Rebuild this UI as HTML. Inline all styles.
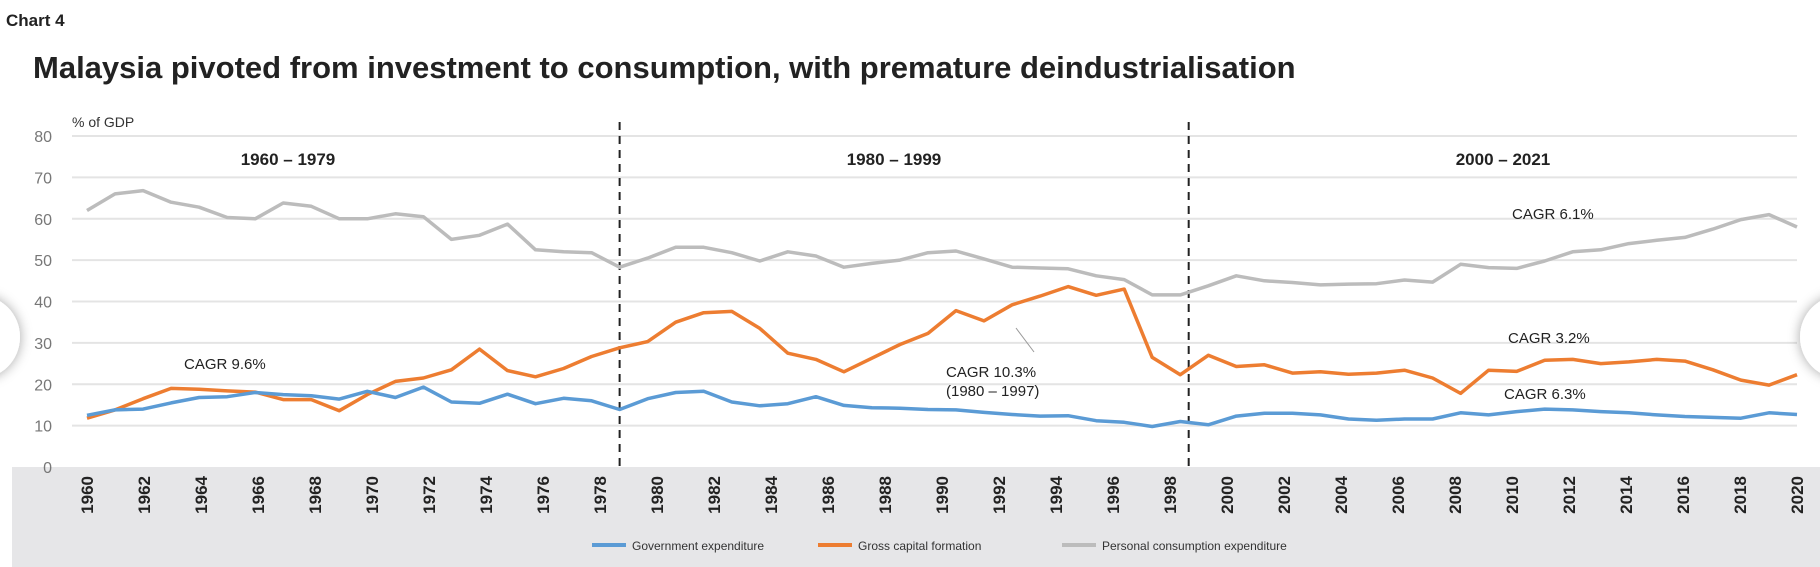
<!DOCTYPE html>
<html><head><meta charset="utf-8"><style>
html,body{margin:0;padding:0;background:#fff;}
body{width:1820px;height:567px;overflow:hidden;position:relative;font-family:"Liberation Sans",sans-serif;}
svg{position:absolute;left:0;top:0;}
</style></head><body>
<svg id="chart" width="1820" height="567" viewBox="0 0 1820 567" xmlns="http://www.w3.org/2000/svg">
  <defs><filter id="sh" x="-50%" y="-50%" width="200%" height="200%"><feDropShadow dx="0" dy="0" stdDeviation="6" flood-color="#000" flood-opacity="0.35"/></filter></defs>
  <rect x="12" y="467" width="1808" height="100" fill="#e6e6e8"/>
  <text x="6" y="26" font-size="17" font-weight="bold" fill="#222">Chart 4</text>
  <text x="33" y="78" font-size="31" font-weight="bold" fill="#222">Malaysia pivoted from investment to consumption, with premature deindustrialisation</text>
  <text x="72" y="127" font-size="14" fill="#333">% of GDP</text>
  <g id="grid"></g><g id="yticks"></g><g id="xticks"></g><g id="series"></g>
  <text x="288" y="165" font-size="17" font-weight="bold" text-anchor="middle" fill="#222">1960 – 1979</text>
  <text x="894" y="165" font-size="17" font-weight="bold" text-anchor="middle" fill="#222">1980 – 1999</text>
  <text x="1503" y="165" font-size="17" font-weight="bold" text-anchor="middle" fill="#222">2000 – 2021</text>
  <text x="184" y="369" font-size="15" fill="#222">CAGR 9.6%</text>
  <text x="946" y="377" font-size="15" fill="#222">CAGR 10.3%</text>
  <text x="946" y="396" font-size="15" fill="#222">(1980 – 1997)</text>
  <line x1="1016" y1="328" x2="1034" y2="352" stroke="#999" stroke-width="1"/>
  <text x="1512" y="219" font-size="15" fill="#222">CAGR 6.1%</text>
  <text x="1508" y="343" font-size="15" fill="#222">CAGR 3.2%</text>
  <text x="1504" y="399" font-size="15" fill="#222">CAGR 6.3%</text>
  <g>
    <line x1="592" y1="545" x2="626" y2="545" stroke="#5b9bd5" stroke-width="4"/>
    <text x="632" y="550" font-size="12" fill="#333">Government expenditure</text>
    <line x1="818" y1="545" x2="852" y2="545" stroke="#ed7d31" stroke-width="4"/>
    <text x="858" y="550" font-size="12" fill="#333">Gross capital formation</text>
    <line x1="1062" y1="545" x2="1096" y2="545" stroke="#bcbcbc" stroke-width="4"/>
    <text x="1102" y="550" font-size="12" fill="#333">Personal consumption expenditure</text>
  </g>
  <circle cx="-22" cy="337" r="42" fill="#fff" filter="url(#sh)"/>
  <circle cx="1842" cy="337" r="42" fill="#fff" filter="url(#sh)"/>
</svg>
<script>
const years = [];
for (let y = 1960; y <= 2021; y++) years.push(y);
const yTicks = [0,10,20,30,40,50,60,70,80];
const xTickLabels = ["1960","1962","1964","1966","1968","1970","1972","1974","1976","1978","1980","1982","1984","1986","1988","1990","1992","1994","1996","1998","2000","2002","2004","2006","2008","2010","2012","2014","2016","2018","2020"];
const govExp = [12.5,13.8,14,15.5,16.8,17,18,17.5,17.2,16.4,18.3,16.8,19.3,15.7,15.4,17.6,15.3,16.6,16,13.9,
16.5,18,18.3,15.7,14.8,15.3,17,14.9,14.3,14.2,13.9,13.8,13.2,12.7,12.3,12.4,11.2,10.8,
9.8,11,10.2,12.3,13,13,12.6,11.6,11.3,11.6,11.6,13.1,12.6,13.4,14,13.8,13.4,13.1,12.6,12.2,12,11.8,13.1,12.7];
const grossCap = [11.8,13.8,16.5,19,18.8,18.4,18.1,16.3,16.3,13.6,17.5,20.7,21.5,23.5,28.5,23.3,21.8,23.8,26.7,28.8,
30.3,35,37.3,37.6,33.5,27.5,26,23,26.3,29.6,32.3,37.8,35.3,39.2,41.3,43.6,41.5,43,
26.5,22.3,27,24.3,24.7,22.7,23,22.4,22.7,23.4,21.5,17.8,23.4,23.1,25.8,26,25,25.4,26,25.6,23.5,21,19.8,22.3];
const personalCons = [62,66,66.8,64,62.8,60.3,60,63.8,63,60,60,61.2,60.5,55,56,58.7,52.5,52,51.8,48.3,
50.5,53.1,53.1,51.8,49.8,52,51,48.3,49.2,50,51.8,52.2,50.3,48.3,48.1,47.9,46.2,45.3,
41.6,41.6,43.8,46.2,45,44.6,44,44.2,44.3,45.2,44.7,49,48.2,48,49.8,52,52.5,54,54.8,55.5,57.5,59.8,61,58];
const dividerPositions = [19, 39.3];

const NS = "http://www.w3.org/2000/svg";
const X0 = 87, X1 = 1797, Y0 = 467, Y1 = 136;
const xScale = i => X0 + (X1 - X0) * i / (years.length - 1);
const yScale = v => Y0 - (Y0 - Y1) * v / 80;
function mk(tag, attrs, parent) {
  const e = document.createElementNS(NS, tag);
  for (const k in attrs) e.setAttribute(k, attrs[k]);
  parent.appendChild(e);
  return e;
}
const grid = document.getElementById('grid');
const yt = document.getElementById('yticks');
yTicks.forEach(v => {
  if (v > 0) {
    const l = mk('line', {x1: 72, x2: 1797, y1: yScale(v), y2: yScale(v), stroke: '#e4e4e4', 'stroke-width': 2}, grid);
    
    
  }
  const t = mk('text', {x: 52, y: yScale(v) + 6, 'font-size': 16, 'text-anchor': 'end', fill: '#777'}, yt);
  
  
  t.textContent = v;
});
const xt = document.getElementById('xticks');
xTickLabels.forEach((lab, i) => {
  const x = X0 + (X1 - X0) * i / (xTickLabels.length - 1) + 6;
  const t = mk('text', {x: 0, y: 0, 'font-size': 17, 'font-weight': 'bold', 'text-anchor': 'end', fill: '#222',
    transform: `translate(${x},476) rotate(-90)`}, xt);
  
  
  t.textContent = lab;
});
const sg = document.getElementById('series');
dividerPositions.forEach(p => {
  const l = mk('line', {x1: xScale(p), x2: xScale(p), y1: 122, y2: 467, stroke: '#222', 'stroke-width': 2, 'stroke-dasharray': '8,6'}, sg);
  
  
});
function line(data, color, name) {
  const d = data.map((v, i) => (i ? 'L' : 'M') + xScale(i).toFixed(1) + ',' + yScale(v).toFixed(1)).join(' ');
  const p = mk('path', {d: d, fill: 'none', stroke: color, 'stroke-width': 3.5, 'stroke-linejoin': 'round'}, sg);
  
  
}
line(personalCons, '#bcbcbc', 'personal-consumption-line');
line(grossCap, '#ed7d31', 'gross-capital-formation-line');
line(govExp, '#5b9bd5', 'government-expenditure-line');
</script>
</body></html>
